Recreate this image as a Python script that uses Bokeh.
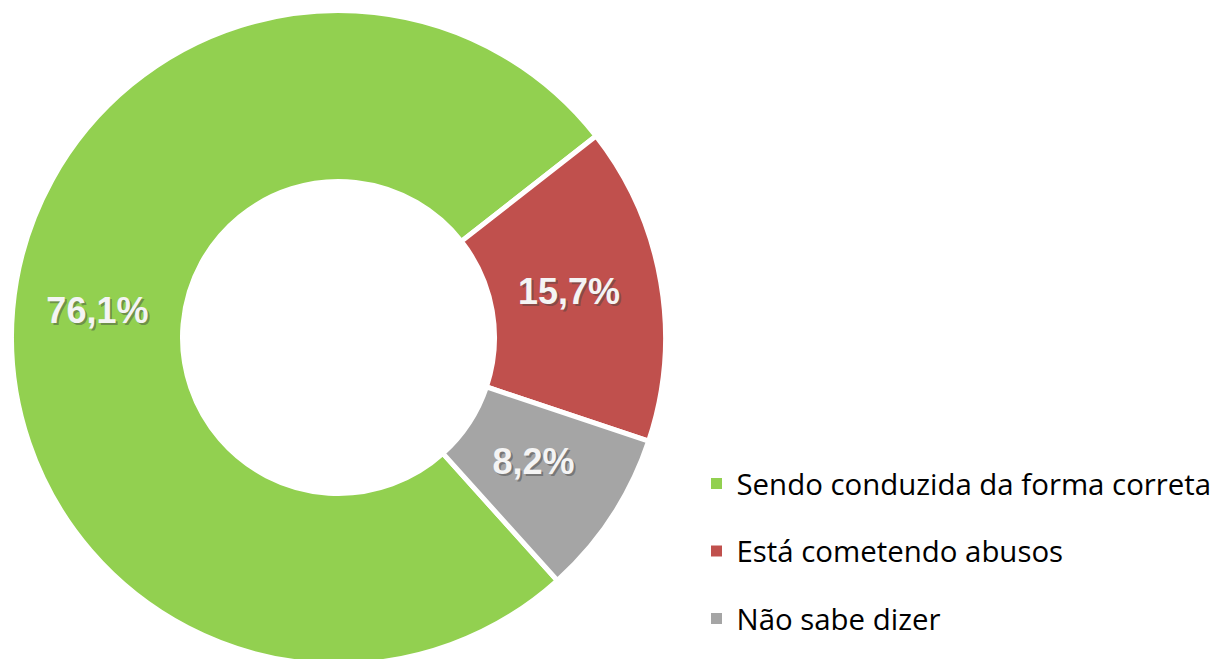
import numpy as np
from bokeh.plotting import figure
from bokeh.models import Range1d, ColumnDataSource
from bokeh.core.properties import value
from bokeh.embed import file_html
from bokeh.resources import INLINE

categories = ["Sendo conduzida da forma correta", "Está cometendo abusos", "Não sabe dizer"]
values = [76.1, 15.7, 8.2]
labels = ["76,1%", "15,7%", "8,2%"]
colors = ["#92D050", "#C0504D", "#A5A5A5"]

W, H = 1220, 659
p = figure(width=W, height=H, x_range=Range1d(0, W), y_range=Range1d(0, H),
           output_backend="svg", toolbar_location=None, min_border=0,
           outline_line_color=None, background_fill_color="white")
p.axis.visible = False
p.grid.visible = False

# donut geometry (screen-pixel data units, y measured upward)
cx, cy = 338, H - 337
r_out, r_in = 327, 156
first_angle = 312.0  # degrees, slices go clockwise

vals = np.array(values, dtype=float)
frac = vals / vals.sum()
cum = np.concatenate([[0], np.cumsum(frac)])
starts = np.deg2rad(first_angle - 360 * cum[:-1])
ends = np.deg2rad(first_angle - 360 * cum[1:])
mids = (starts + ends) / 2

src = ColumnDataSource(dict(x=[cx] * len(vals), y=[cy] * len(vals), start=starts, end=ends,
                            color=colors, cat=categories))
p.annular_wedge(x="x", y="y", inner_radius=r_in, outer_radius=r_out,
                start_angle="start", end_angle="end", direction="clock",
                fill_color="color", line_color="white", line_width=5, source=src)

r_lab = 238
lsrc = ColumnDataSource(dict(x=cx + r_lab * np.cos(mids), y=cy + r_lab * np.sin(mids), t=labels))
p.text(x="x", y="y", text="t", source=lsrc, x_offset=-2, y_offset=-4,
       text_font=value("Liberation Sans"), text_font_style="bold", text_font_size="36px",
       text_color="#404040", text_alpha=0.45, text_align="center", text_baseline="middle")
p.text(x="x", y="y", text="t", source=lsrc, x_offset=-4, y_offset=-6,
       text_font=value("Liberation Sans"), text_font_style="bold", text_font_size="36px",
       text_color="#F4F4F4", text_align="center", text_baseline="middle")

# legend
lx, ly0, lstep = 716, H - 483, 67.5
ly = [ly0 - i * lstep for i in range(len(categories))]
leg = ColumnDataSource(dict(x=[lx] * len(categories), y=ly, c=colors, t=categories,
                            tx=[lx + 20] * len(categories)))
p.scatter(x="x", y="y", marker="square", size=11, fill_color="c", line_color=None, source=leg)
p.text(x="tx", y="y", text="t", source=leg, y_offset=0,
       text_font=value("Open Sans"), text_font_size="29.4px", text_color="black",
       text_align="left", text_baseline="middle")

open("out.html", "w").write(file_html(p, INLINE))
